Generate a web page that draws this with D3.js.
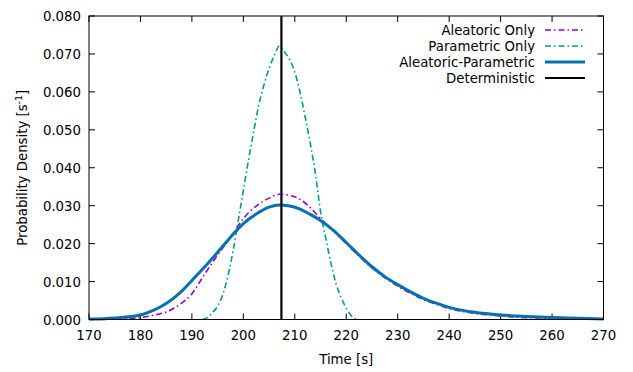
<!DOCTYPE html>
<html><head><meta charset="utf-8">
<script src="https://cdn.jsdelivr.net/npm/d3@7"></script>
<style>body{margin:0;background:#fff}svg{display:block}text{font-family:"DejaVu Sans",sans-serif;font-size:13.3px;fill:#000}</style>
</head><body><svg id="c" width="633" height="372"></svg>
<script>
const xTicks=[170,180,190,200,210,220,230,240,250,260,270];
const yTicks=[0,0.01,0.02,0.03,0.04,0.05,0.06,0.07,0.08];
const deterministicTime=207.4;
const aleaT=[170,175,180,182.5,185,187.5,190,192.5,195,197.5,200,202.5,205,207,209,211,213,215,217.5,220,222.5,225,227.5,230,232.5,235,237.5,240,245,250,255,260,265,270];
const aleaV=[0,0.0001,0.0005,0.0011,0.0020,0.0038,0.0068,0.0120,0.0170,0.0216,0.0266,0.0299,0.0320,0.0330,0.0327,0.0317,0.0295,0.0266,0.0234,0.0200,0.0167,0.0136,0.0110,0.0088,0.0069,0.0053,0.0040,0.0029,0.0016,0.0009,0.0005,0.0003,0.0001,0.00005];
const paramT=[192,193,194,195,196,197,198,199,200,201,202,203,204,205,206,207,208,209,210,211,212,213,214,215,216,217,218,219,220,221,222];
const paramV=[0,0.0005,0.0018,0.0035,0.0065,0.0115,0.018,0.026,0.034,0.042,0.0495,0.0565,0.0618,0.0662,0.0695,0.0721,0.0705,0.0685,0.0652,0.060,0.0535,0.0465,0.0385,0.0285,0.0215,0.0150,0.0095,0.0058,0.0030,0.0010,0];
const bothT=[170,175,180,182.5,185,187.5,190,192.5,195,197.5,200,202.5,205,207,209,211,213,215,217.5,220,222.5,225,227.5,230,232.5,235,237.5,240,245,250,255,260,265,270];
const bothV=[0.0001,0.0004,0.0012,0.0024,0.0042,0.0068,0.0103,0.0139,0.0177,0.0217,0.0253,0.0278,0.0296,0.0302,0.0299,0.0291,0.0277,0.0261,0.0235,0.0203,0.0170,0.0139,0.0113,0.0092,0.0073,0.0056,0.0043,0.0032,0.0019,0.0012,0.0008,0.0005,0.0003,0.0001];
const legendNames=["Aleatoric Only","Parametric Only","Aleatoric-Parametric","Deterministic"];

const svg=d3.select("#c");
const L=89,R=603.5,T=16,B=319.5;
const x=d3.scaleLinear().domain([170,270]).range([L,R]);
const y=d3.scaleLinear().domain([0,0.08]).range([B,T]);

const g=svg.append("g");
xTicks.forEach(t=>{
  g.append("line").attr("x1",x(t)).attr("x2",x(t)).attr("y1",B).attr("y2",B-6).attr("stroke","#000");
  g.append("line").attr("x1",x(t)).attr("x2",x(t)).attr("y1",T).attr("y2",T+6).attr("stroke","#000");
  g.append("text").attr("x",x(t)).attr("y",B+20).attr("text-anchor","middle").text(t);
});
yTicks.forEach(t=>{
  g.append("line").attr("x1",L).attr("x2",L+6).attr("y1",y(t)).attr("y2",y(t)).attr("stroke","#000");
  g.append("line").attr("x1",R).attr("x2",R-6).attr("y1",y(t)).attr("y2",y(t)).attr("stroke","#000");
  g.append("text").attr("x",L-8).attr("y",y(t)+5).attr("text-anchor","end").text(t.toFixed(3));
});

const line=d3.line().x(d=>x(d[0])).y(d=>y(d[1])).curve(d3.curveMonotoneX);
const zip=(a,b)=>a.map((v,i)=>[v,b[i]]);
svg.append("path").attr("d",line(zip(aleaT,aleaV))).attr("fill","none").attr("stroke","#9400d3").attr("stroke-width",1.6).attr("stroke-dasharray","6,3,1.5,3");
svg.append("path").attr("d",line(zip(paramT,paramV))).attr("fill","none").attr("stroke","#009e73").attr("stroke-width",1.6).attr("stroke-dasharray","6,3,1.5,3");
svg.append("path").attr("d",line(zip(bothT,bothV))).attr("fill","none").attr("stroke","#0072b2").attr("stroke-width",3);
svg.append("line").attr("x1",x(deterministicTime)).attr("x2",x(deterministicTime)).attr("y1",B).attr("y2",T).attr("stroke","#000").attr("stroke-width",2.2);

svg.append("rect").attr("x",L).attr("y",T).attr("width",R-L).attr("height",B-T).attr("fill","none").attr("stroke","#000").attr("stroke-width",1);

const styles=[
 {c:"#9400d3",w:1.6,d:"6,3,1.5,3"},
 {c:"#009e73",w:1.6,d:"6,3,1.5,3"},
 {c:"#0072b2",w:3,d:null},
 {c:"#000",w:2,d:null}];
legendNames.forEach((n,i)=>{
  const yy=30+i*16;
  svg.append("text").attr("x",535).attr("y",yy+5).attr("text-anchor","end").text(n);
  const l=svg.append("line").attr("x1",545).attr("x2",585).attr("y1",yy).attr("y2",yy).attr("stroke",styles[i].c).attr("stroke-width",styles[i].w);
  if(styles[i].d) l.attr("stroke-dasharray",styles[i].d);
});

svg.append("text").attr("x",(L+R)/2).attr("y",364).attr("text-anchor","middle").text("Time [s]");
const yl=svg.append("text").attr("transform",`translate(27,${(T+B)/2}) rotate(-90)`).attr("text-anchor","middle");
yl.append("tspan").text("Probability Density [s");
yl.append("tspan").attr("dy",-5).attr("font-size","9.5px").text("-1");
yl.append("tspan").attr("dy",5).text("]");
</script></body></html>
